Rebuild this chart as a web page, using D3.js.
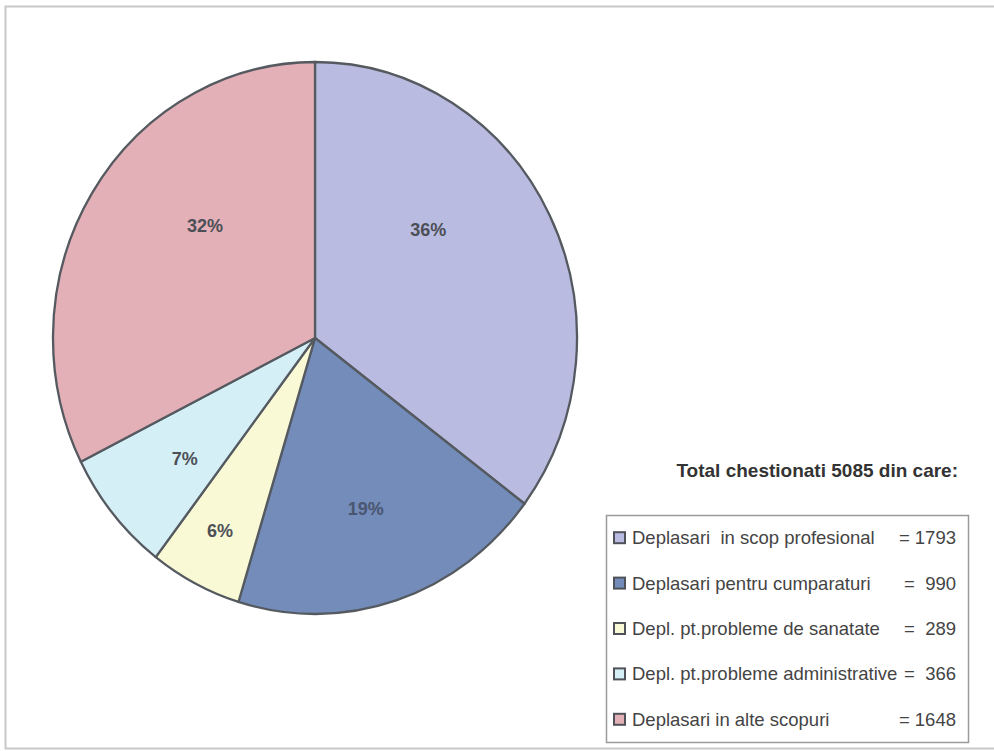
<!DOCTYPE html>
<html>
<head>
<meta charset="utf-8">
<script src="https://cdn.jsdelivr.net/npm/d3@7"></script>
<style>
  body { margin: 0; background: #fff; }
  text { font-family: Arial, "Liberation Sans", sans-serif; }
</style>
</head>
<body>
<div id="vis"></div>
<script>
// data
const categories = [
  'Deplasari  in scop profesional',
  'Deplasari pentru cumparaturi',
  'Depl. pt.probleme de sanatate',
  'Depl. pt.probleme administrative',
  'Deplasari in alte scopuri'
];
const values = [1793, 990, 289, 366, 1648];
const percentLabels = ['36%', '19%', '6%', '7%', '32%'];
const colors = ['#b9bce0', '#738cba', '#f9f9d6', '#d4eff5', '#e3b0b8'];
const titleText = 'Total chestionati 5085 din care:';

const width = 994;
const height = 751;

// pie geometry (scan is a bit taller than wide)
const cx = 315, cy = 338;
const rx = 262, ry = 276;

// small nudges of the percent labels from their arc centroid
const labelNudge = [[-39, -28], [-2, 0], [-17, 33], [1, 6], [35, -18]];

const svg = d3.select('#vis')
  .append('svg')
  .attr('width', width)
  .attr('height', height);

// outer frame
svg.append('rect')
  .attr('x', 5.5).attr('y', 6.5)
  .attr('width', 1000).attr('height', 742)
  .attr('fill', 'none')
  .attr('stroke', '#c8c8c8')
  .attr('stroke-width', 2);

const pie = d3.pie().sort(null).value(d => d);
const arcs = pie(values);

const arc = d3.arc().innerRadius(0).outerRadius(rx);
const labelArc = d3.arc().innerRadius(rx * 0.65).outerRadius(rx * 0.65);

const pieG = svg.append('g')
  .attr('transform', `translate(${cx},${cy}) scale(1,${ry / rx})`);

pieG.selectAll('path')
  .data(arcs)
  .enter()
  .append('path')
  .attr('d', arc)
  .attr('fill', (d, i) => colors[i])
  .attr('stroke', '#555a60')
  .attr('stroke-width', 2.3)
  .attr('vector-effect', 'non-scaling-stroke')
  .attr('stroke-linejoin', 'round');

svg.append('g')
  .selectAll('text')
  .data(arcs)
  .enter()
  .append('text')
  .attr('x', (d, i) => cx + labelArc.centroid(d)[0] + labelNudge[i][0])
  .attr('y', (d, i) => cy + labelArc.centroid(d)[1] * ry / rx + labelNudge[i][1])
  .attr('dy', '0.35em')
  .attr('text-anchor', 'middle')
  .attr('font-size', 18)
  .attr('font-weight', 'bold')
  .attr('fill', (d, i) => i === 1 ? '#4a5670' : '#4d4f57')
  .text((d, i) => percentLabels[i]);

// legend title
svg.append('text')
  .attr('x', 958)
  .attr('y', 477)
  .attr('text-anchor', 'end')
  .attr('font-size', 19)
  .attr('font-weight', 'bold')
  .attr('fill', '#333')
  .text(titleText);

// legend box
const legend = svg.append('g').attr('transform', 'translate(606,515)');

legend.append('rect')
  .attr('x', 0.5).attr('y', 0.5)
  .attr('width', 362).attr('height', 227)
  .attr('fill', '#fff')
  .attr('stroke', '#9a9a9a')
  .attr('stroke-width', 1.5);

const rowY = d3.scaleBand()
  .domain(categories)
  .range([0, 227])
  .paddingOuter(0);

const rows = legend.selectAll('g.row')
  .data(categories)
  .enter()
  .append('g')
  .attr('class', 'row')
  .attr('transform', d => `translate(0,${rowY(d) + rowY.bandwidth() / 2})`);

rows.append('rect')
  .attr('x', 8).attr('y', -5.5)
  .attr('width', 11).attr('height', 11)
  .attr('fill', (d, i) => colors[i])
  .attr('stroke', '#4f5258')
  .attr('stroke-width', 2);

rows.append('text')
  .attr('x', 26)
  .attr('dy', '0.35em')
  .attr('font-size', 18.5)
  .attr('fill', '#444')
  .style('white-space', 'pre')
  .text(d => d);

rows.append('text')
  .attr('x', 350)
  .attr('dy', '0.35em')
  .attr('text-anchor', 'end')
  .attr('font-size', 18.5)
  .attr('fill', '#444')
  .style('white-space', 'pre')
  .text((d, i) => (values[i] >= 1000 ? '= ' : '=  ') + values[i]);
</script>
</body>
</html>
